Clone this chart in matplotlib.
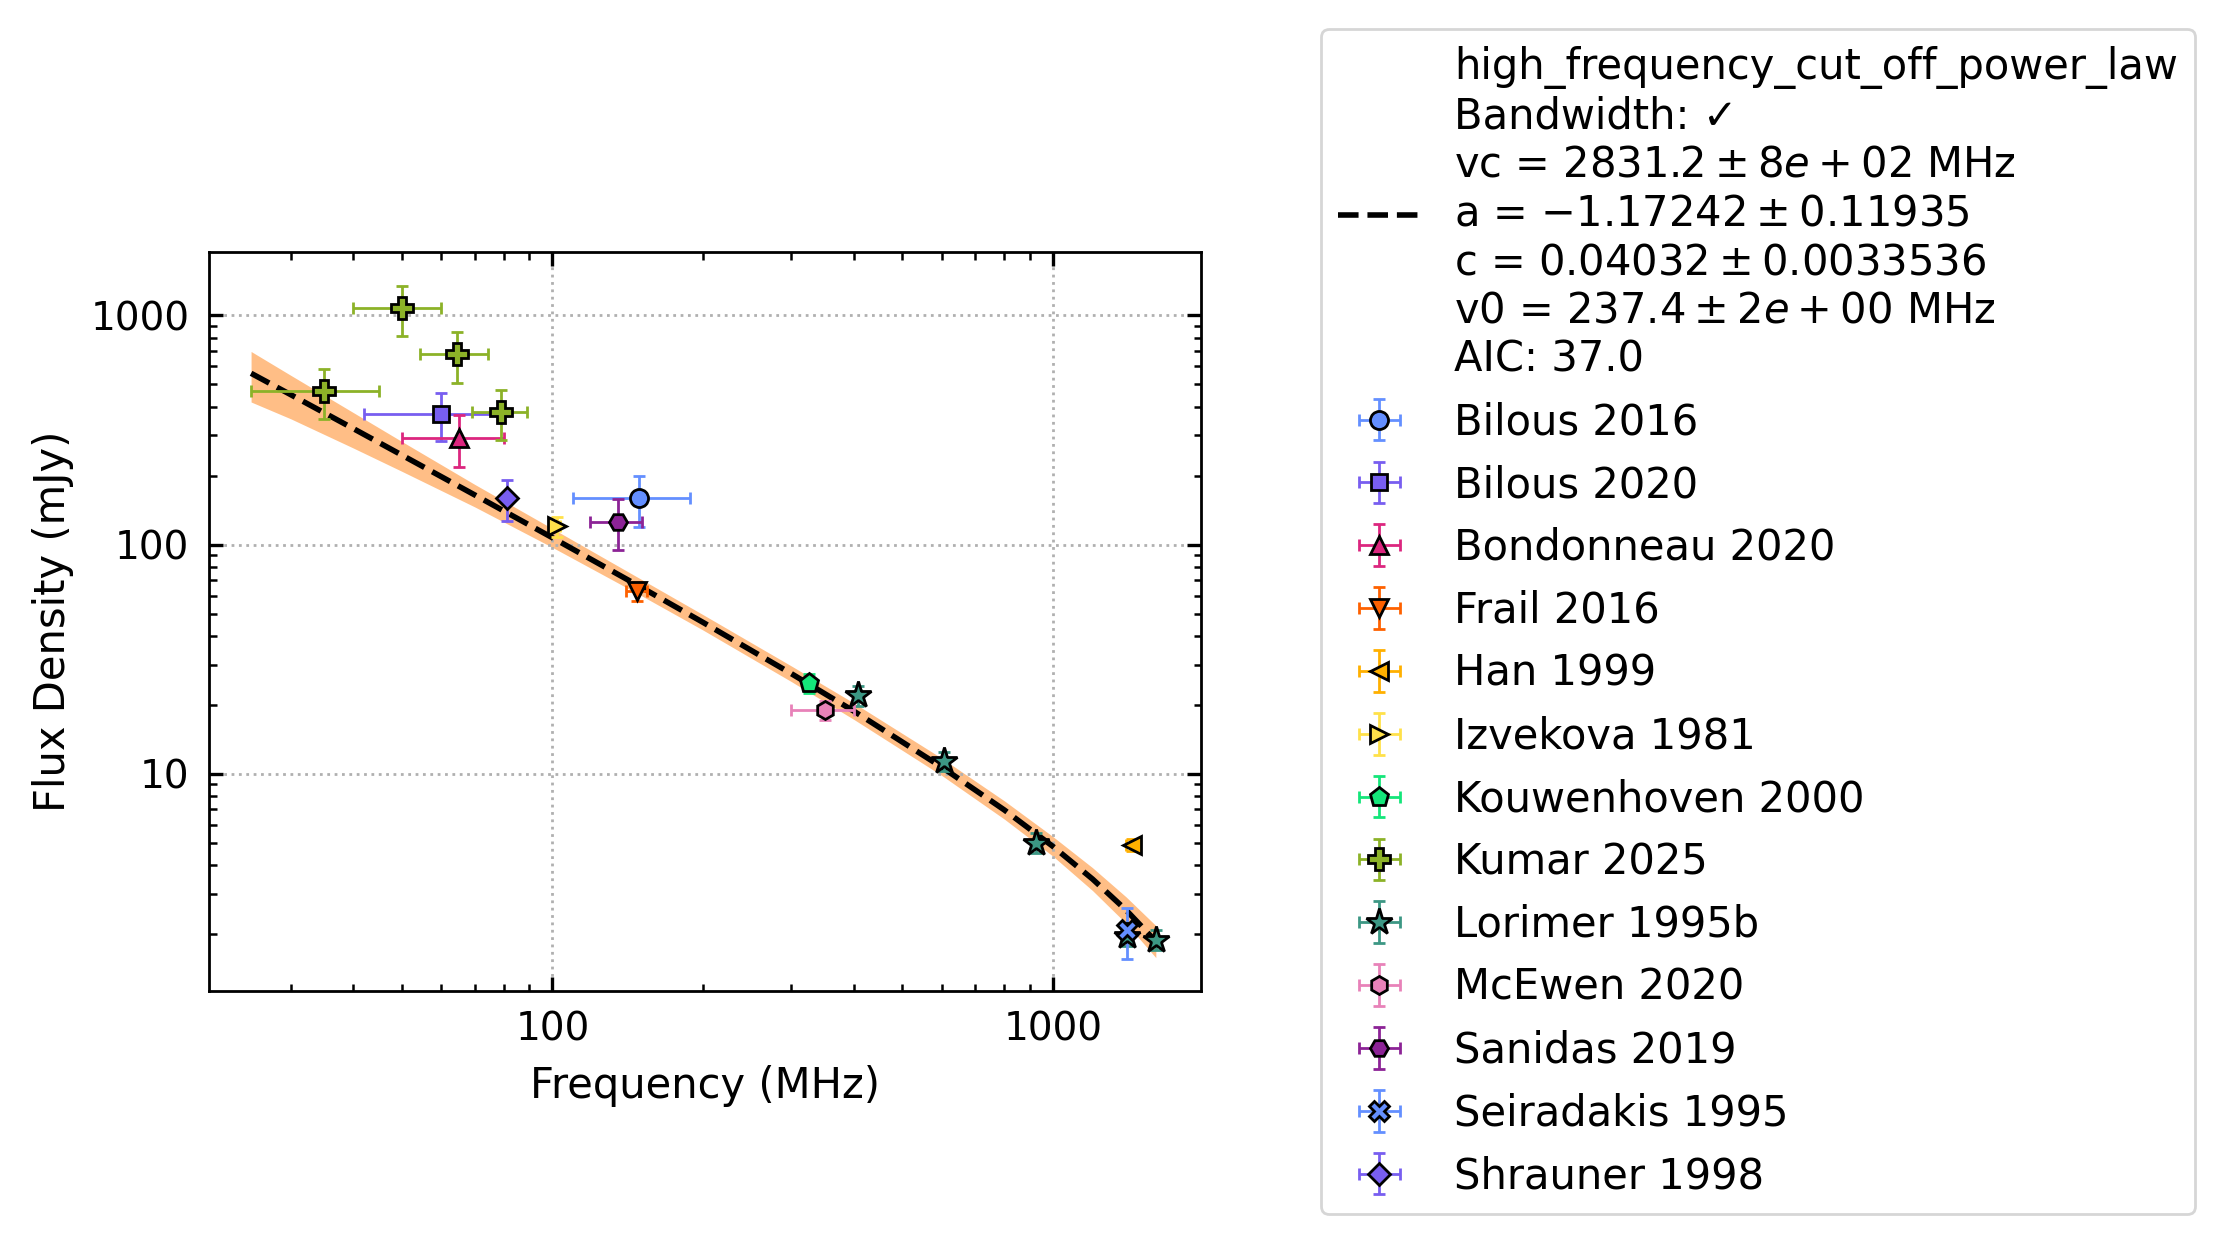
import matplotlib.pyplot as plt
from matplotlib.ticker import FormatStrFormatter, NullFormatter

plt.rcParams["font.size"] = 15

# ───────────────────────── measured flux densities ─────────────────────────
REFS = [
    "Bilous 2016", "Bilous 2020", "Bondonneau 2020", "Frail 2016", "Han 1999",
    "Izvekova 1981", "Kouwenhoven 2000", "Kumar 2025", "Lorimer 1995b",
    "McEwen 2020", "Sanidas 2019", "Seiradakis 1995", "Shrauner 1998",
]

# one entry per point (MHz, mJy)
point_ref = [
    "Bilous 2016", "Bilous 2020", "Bondonneau 2020", "Frail 2016", "Han 1999",
    "Izvekova 1981", "Kouwenhoven 2000",
    "Kumar 2025", "Kumar 2025", "Kumar 2025", "Kumar 2025",
    "Lorimer 1995b", "Lorimer 1995b", "Lorimer 1995b", "Lorimer 1995b", "Lorimer 1995b",
    "McEwen 2020", "Sanidas 2019", "Seiradakis 1995", "Shrauner 1998",
]
point_freq = [149, 60, 65, 147.5, 1440, 102, 325, 35, 50, 64.5, 79,
              408, 606, 925, 1408, 1606, 350, 135, 1408, 81]
point_freq_err = [39, 18, 15, 7, 40, 1.5, 5, 10, 10, 10, 10,
                  5, 5, 8, 10, 10, 50, 16, 15, 1.5]
point_flux = [159, 372, 292, 63, 4.9, 120, 25, 468, 1080, 678, 380,
              22, 11.4, 5.0, 1.97, 1.89, 19, 126, 2.08, 159]
point_flux_err = [40, 88, 74, 6, 0.3, 12, 2.4, 115, 265, 170, 95,
                  2.2, 1.1, 0.5, 0.2, 0.19, 1.9, 31.5, 0.52, 32]

# ─────────────────────────── fitted model curve ────────────────────────────
fit_freq = [25, 30, 40, 50, 70, 100, 150, 200, 300, 400, 600, 800, 1000, 1200, 1400, 1606]
fit_flux = [559, 451, 321, 246, 164.6, 107.2, 65.4, 45.8, 27.4, 18.8, 10.7, 6.96,
            4.83, 3.48, 2.55, 1.86]
fit_hi = [696, 548, 377, 282, 183, 117.5, 70.9, 49.5, 29.6, 20.4, 11.7, 7.63,
          5.33, 3.90, 2.91, 2.18]
fit_lo = [419, 354, 264, 209, 146, 97.3, 60.2, 42.4, 25.3, 17.3, 9.84, 6.35,
          4.38, 3.10, 2.23, 1.58]

FIT_LABEL = (
    "high_frequency_cut_off_power_law\n"
    "Bandwidth: \u2713\n"
    r"vc = $2831.2 \pm 8e+02$ MHz" "\n"
    r"a = $-1.17242 \pm 0.11935$" "\n"
    r"c = $0.04032 \pm 0.0033536$" "\n"
    r"v0 = $237.4 \pm 2e+00$ MHz" "\n"
    "AIC: 37.0"
)

# ─────────────────────────────── styling ───────────────────────────────────
PALETTE = ["#648FFF", "#785EF0", "#DC267F", "#FE6100", "#FFB000", "#FFE14A",
           "#14E67A", "#8CB228", "#3C9784", "#E882B9", "#8C2396"]
MARKERS = ["o", "s", "^", "v", "<", ">", "p", "P", "*", "h", "H", "X", "D"]
SIZES = [6.5, 6, 6.5, 6.5, 6.5, 6.5, 7, 8, 10, 6.5, 6.5, 7, 5.5]


def main() -> None:
    fig = plt.figure(figsize=(2225 / 200, 1244 / 200), dpi=200)
    ax = fig.add_axes([209 / 2225, 253 / 1244, 992 / 2225, 739 / 1244])

    ax.fill_between(fit_freq, fit_lo, fit_hi, color="C1", alpha=0.5, lw=0, zorder=1)
    (fit_line,) = ax.plot(fit_freq, fit_flux, "k--", lw=2, zorder=2, label=FIT_LABEL)

    handles = [fit_line]
    for i, name in enumerate(REFS):
        idx = [j for j, r in enumerate(point_ref) if r == name]
        col = PALETTE[i % len(PALETTE)]
        h = ax.errorbar(
            [point_freq[j] for j in idx],
            [point_flux[j] for j in idx],
            xerr=[point_freq_err[j] for j in idx],
            yerr=[point_flux_err[j] for j in idx],
            fmt=MARKERS[i],
            color=col,
            mfc=col,
            mec="black",
            mew=1,
            ms=SIZES[i],
            elinewidth=1,
            capsize=2,
            capthick=1,
            zorder=3,
            label=name,
        )
        handles.append(h)

    ax.set_xscale("log")
    ax.set_yscale("log")
    ax.set_xlim(20.6, 1977)
    ax.set_ylim(1.13, 1890)
    for axis in (ax.xaxis, ax.yaxis):
        axis.set_major_formatter(FormatStrFormatter("%g"))
        axis.set_minor_formatter(NullFormatter())

    ax.grid(True, which="major", ls=":", color="#b0b0b0", lw=1)
    ax.tick_params(which="both", direction="in", top=True, right=True)
    ax.tick_params(which="major", length=5, width=1.2, pad=7, labelsize=14)
    ax.tick_params(which="minor", length=2.7, width=0.9)
    for sp in ax.spines.values():
        sp.set_linewidth(1.0)

    ax.set_xlabel("Frequency (MHz)", labelpad=6)
    ax.set_ylabel("Flux Density (mJy)", labelpad=6)

    ax.legend(handles=handles, loc="center left", bbox_to_anchor=(1.121, 0.5),
              borderaxespad=0)

    fig.savefig("out.png", dpi=200)


if __name__ == "__main__":
    main()
